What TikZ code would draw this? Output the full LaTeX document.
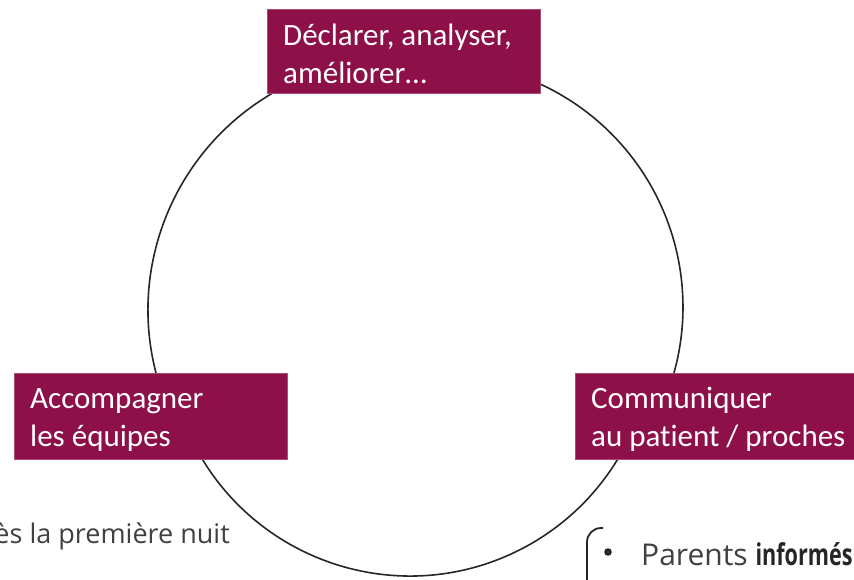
\documentclass[tikz,border=0pt]{standalone}
\usepackage{fontspec}
\setmainfont{Carlito}[Ligatures=NoCommon]
\newfontfamily\notefont{Open Sans}
\definecolor{boxcol}{RGB}{142,16,72}
\definecolor{linecol}{RGB}{38,38,38}
\definecolor{greytxt}{RGB}{64,64,64}
\begin{document}
\begin{tikzpicture}[x=1pt,y=-1pt,
  cycleline/.style={draw=linecol, line width=1.6pt},
  stagebox/.style={fill=boxcol, draw=boxcol!75, line width=1.4pt, anchor=north west, inner sep=0pt},
  stagetext/.style={text=white, anchor=base west, inner sep=0pt, align=left,
    font=\fontsize{31}{38}\selectfont},
  notetext/.style={text=greytxt, inner sep=0pt},
  bracketline/.style={draw=linecol, line width=1.8pt, rounded corners=14pt}]
\useasboundingbox (0,0) rectangle (854,579);
\clip (0,0) rectangle (854,579);

% cycle: three arcs joining the stages, hidden ends under the boxes
\coordinate (arcL) at (292.9,82.5);
\coordinate (arcB) at (189.8,435.7);
\coordinate (arcR) at (665.1,399.0);
\draw[cycleline] (arcL) arc[start angle=-115, end angle=-200, radius=251];
\draw[cycleline] (arcB) arc[start angle=155, end angle=25, radius=243];
\draw[cycleline] (arcR) arc[start angle=22, end angle=-70, radius=245.5];

% stages
\node[stagebox, minimum width=273pt, minimum height=84pt] (top) at (267,9) {};
\node[stagebox, minimum width=273pt, minimum height=86pt] (left) at (14,373) {};
\node[stagebox, minimum width=300pt, minimum height=86pt] (right) at (575,373) {};

% labels: anchored on the baseline of their last line
\node[stagetext] (toptxt) at (283,83) {Déclarer, analyser,\\améliorer…};
\node[stagetext] (lefttxt) at (30,446) {Accompagner\\les équipes};
\node[stagetext] (righttxt) at (591,446) {Communiquer\\au patient / proches};

% notes below
\node[notetext, anchor=base east, font=\notefont\fontsize{27}{32}\selectfont]
  (night) at (230,543) {ès la première nuit};
\draw[bracketline] (603,528) -| (587,600);
\fill[linecol] (608,552) circle (3.8pt);
\node[notetext, anchor=base west, font=\notefont\fontsize{30}{36}\selectfont]
  (parents) at (641,565)
  {Parents \scalebox{0.72}[1]{\textbf{\textcolor{linecol}{informés}}}};
\end{tikzpicture}
\end{document}
